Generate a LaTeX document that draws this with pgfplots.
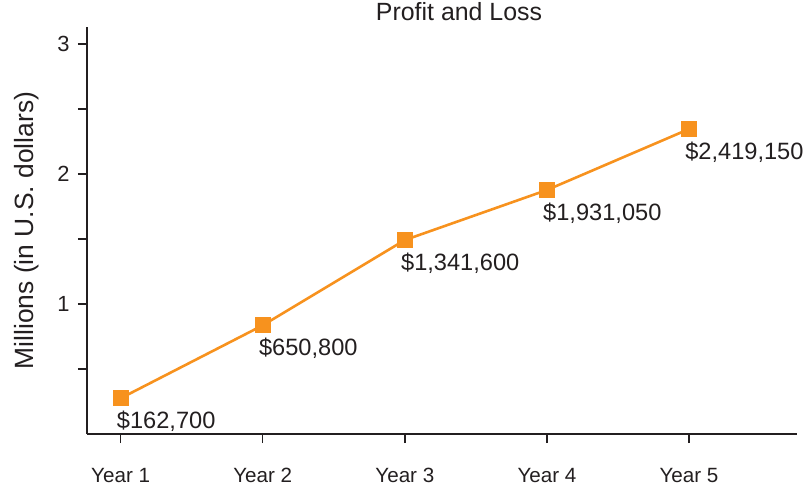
\documentclass[border=0pt]{standalone}
\usepackage{pgfplots}
\pgfplotsset{compat=1.18}
\usepackage{fontspec}
\setmainfont{Liberation Sans}
\definecolor{lineorange}{HTML}{F7921E}
\definecolor{txt}{HTML}{231F20}
\begin{document}
\begin{tikzpicture}
\begin{axis}[
  scale only axis,
  width=710bp, height=407bp,
  xmin=0.763, xmax=5.76,
  ymin=0, ymax=3.131,
  axis lines=left,
  axis line style={-, line width=1.6bp, color=txt},
  tick style={line width=1.4bp, color=txt},
  tick align=outside,
  major tick length=9bp,
  minor tick length=9bp,
  xtick={1,2,3,4,5},
  xticklabels={Year 1,Year 2,Year 3,Year 4,Year 5},
  ytick={1,2,3},
  minor ytick={0.5,1.5,2.5},
  xticklabel style={font=\fontsize{20.7}{25}\selectfont, color=txt, yshift=-22bp},
  yticklabel style={font=\fontsize{22}{26}\selectfont, color=txt, xshift=-5bp},
  /pgf/number format/assume math mode=true,
  ylabel={Millions (in U.S. dollars)},
  ylabel style={font=\fontsize{26.5}{31}\selectfont, color=txt, at={(axis description cs:-0.063,0.5)}, anchor=south},
  title={Profit and Loss},
  title style={font=\fontsize{25}{30}\selectfont, color=txt, at={(axis description cs:0.524,1)}, anchor=base, yshift=1bp},
  clip=false,
  nodes near coords,
  point meta=explicit symbolic,
  nodes near coords style={font=\fontsize{23.7}{28}\selectfont, color=txt, anchor=base west, inner sep=0pt, xshift=-5bp, yshift=-30bp},
]
\addplot[color=lineorange, line width=2.6bp, mark=square*, mark size=6.6bp, mark options={fill=lineorange, draw=none}]
  table[meta=label, col sep=comma] {
x,y,label
1,0.275,\$162{,}700
2,0.836,\$650{,}800
3,1.492,\$1{,}341{,}600
4,1.877,\$1{,}931{,}050
5,2.346,\$2{,}419{,}150
};
\end{axis}
\pgfresetboundingbox
\path[use as bounding box] ([shift={(-87bp,-55bp)}]current axis.south west) rectangle ([shift={(12bp,27bp)}]current axis.north east);
\end{tikzpicture}
\end{document}
